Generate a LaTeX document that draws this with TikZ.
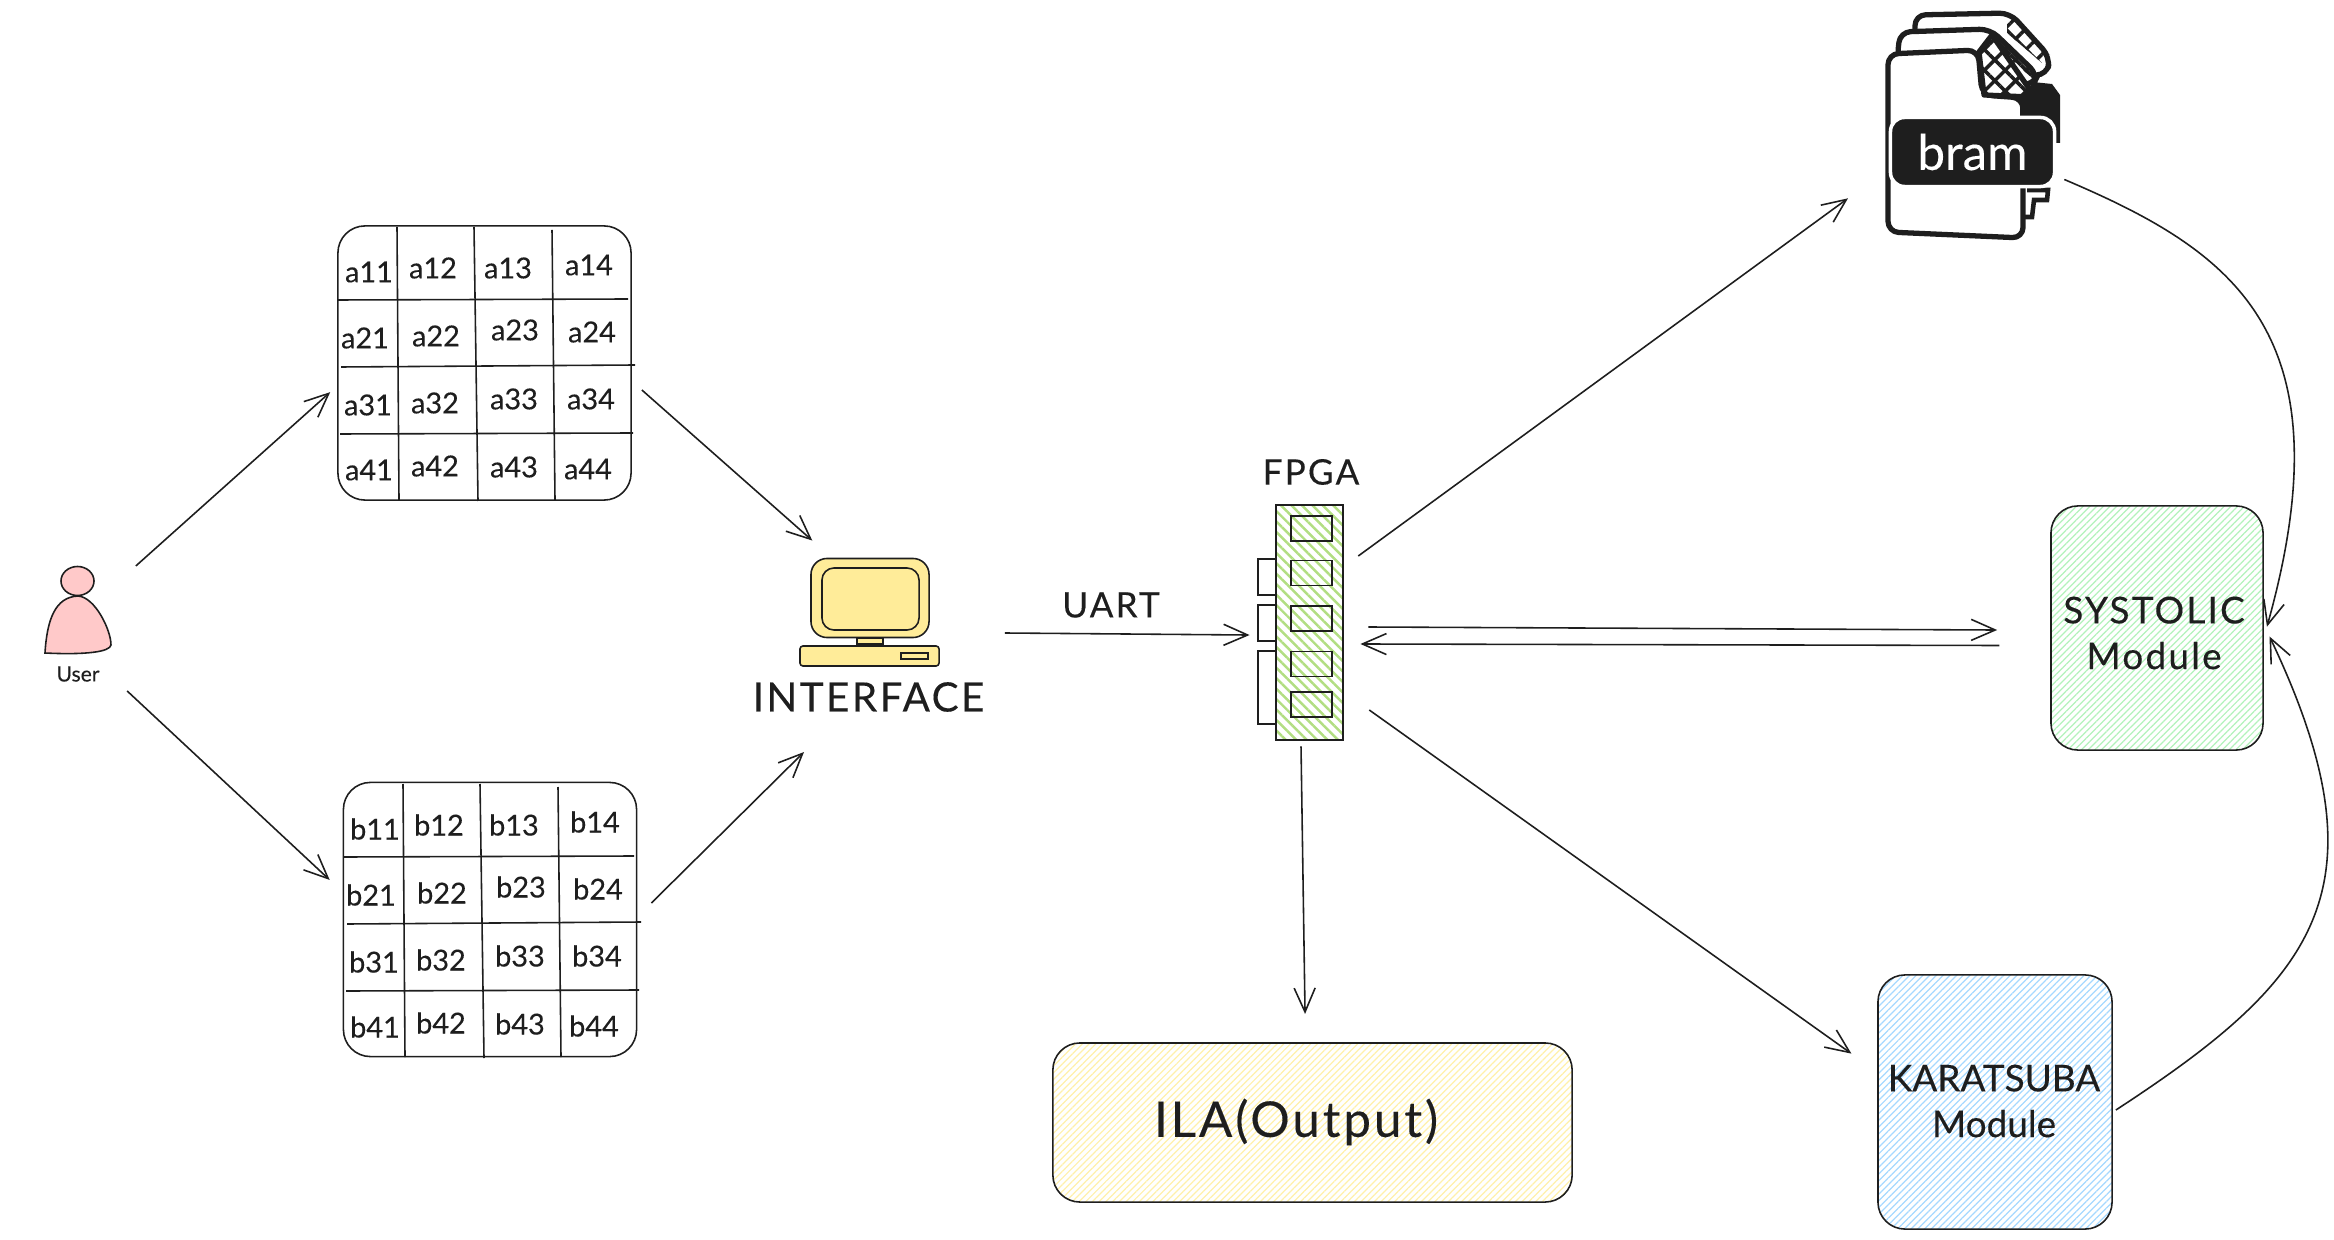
\documentclass[tikz,border=0pt]{standalone}
\usepackage{fontspec}
\setmainfont[FakeBold=0.25]{Lato}
\newfontfamily\wideface[FakeBold=0.25,LetterSpace=6]{Lato}
\usetikzlibrary{arrows.meta,patterns.meta,shapes.geometric}
\definecolor{ink}{RGB}{30,30,30}
\definecolor{softpink}{RGB}{255,201,201}
\definecolor{softyellow}{RGB}{255,236,153}
\definecolor{hatchyellow}{RGB}{255,240,170}
\definecolor{hatchgreen}{RGB}{178,242,187}
\definecolor{hatchblue}{RGB}{165,216,255}
\definecolor{hatchlime}{RGB}{178,222,130}

\begin{document}
\begin{tikzpicture}[
  x=0.01cm, y=-0.01cm,
  inkline/.style={draw=ink, line width=0.45pt},
  link/.style={inkline, shorten >=-0.8pt, -{Straight Barb[length=2.4mm,width=2.1mm]}},
  cell/.style={text=ink, inner sep=0pt, font=\fontsize{8.2}{10}\selectfont},
  gridline/.style={inkline},
  matbox/.style={inkline, rounded corners=0.27cm, minimum width=2.93cm, minimum height=2.74cm, inner sep=0pt},
  module/.style={inkline, rounded corners=0.27cm, inner sep=0pt},
  modtext/.style={align=center, inner sep=0pt, text=ink, font=\wideface\fontsize{10.5}{13}\selectfont},
  fine/.style={pattern={Lines[angle=45,distance=1.35pt,line width=0.35pt]}, pattern color=#1},
  pcpart/.style={inkline, fill=softyellow, inner sep=0pt},
  chip/.style={inkline, minimum width=0.41cm, minimum height=0.25cm, inner sep=0pt},
  tab/.style={inkline, fill=white, minimum width=0.18cm, inner sep=0pt},
  title/.style={text=ink, inner sep=0pt, font=\wideface\fontsize{11.5}{13}\selectfont},
  sheet/.style={draw=ink, line width=1.5pt, fill=white, rounded corners=3pt, line join=round},
  fold/.style={pattern={Lines[angle=#1,distance=4.2pt,line width=1pt]}, pattern color=ink}
]
\useasboundingbox (0,0) rectangle (2334,1240);

\node[draw=ink, line width=0.45pt, fill=softpink, ellipse, minimum width=0.33cm, minimum height=0.29cm, inner sep=0pt] (userhead) at (77.5,581) {};
\draw[inkline, fill=softpink] (45,653) .. controls (47,620) and (55,597) .. (78,596) .. controls (95,597) and (111,630) .. (111,645) .. controls (110,652) and (85,655) .. cycle;
\node[text=ink, inner sep=0pt, font=\fontsize{6}{7}\selectfont] (userlabel) at (78,674) {User};

\node[matbox] (matA) at (484.5,363) {};
\node[matbox] (matB) at (490,919.5) {};
\foreach \m/\dx/\dy in {a/0/0,b/6/557} {
  \foreach \row/\col/\x/\y in {1/1/369/272,1/2/433/268,1/3/508/268,1/4/589/265,
    2/1/365/338,2/2/436/336,2/3/515/330,2/4/592/332,
    3/1/368/405,3/2/435/403,3/3/514/399,3/4/591/399,
    4/1/369/470,4/2/435/466,4/3/514/467,4/4/588/469} {
    \node[cell] (\m\row\col) at (\x+\dx,\y+\dy) {\m\row\col};
  }
  \foreach \xa/\ya/\xb/\yb in {397/227/399/500,474/227/478/501,552/230/555/500,
    338/300/628/299,341/367/635/365,340/434/633/433} {
    \draw[gridline] (\xa+\dx,\ya+\dy) -- (\xb+\dx,\yb+\dy);
  }
}

\node[pcpart, rounded corners=0.16cm, minimum width=1.18cm, minimum height=0.79cm] (monitor) at (870,598) {};
\node[pcpart, rounded corners=0.12cm, minimum width=0.97cm, minimum height=0.62cm] (screen) at (870.5,599) {};
\node[pcpart, minimum width=0.255cm, minimum height=0.06cm] (neck) at (870,641) {};
\node[pcpart, rounded corners=0.03cm, minimum width=1.39cm, minimum height=0.2cm] (base) at (869.5,656) {};
\node[pcpart, minimum width=0.27cm, minimum height=0.06cm] (slot) at (914.5,656) {};
\node[title] (ifacelabel) at (868.5,697) {INTERFACE};

\node[title, font=\wideface\fontsize{10}{12}\selectfont] (uartlabel) at (1111,605) {UART};
\node[title, font=\wideface\fontsize{10}{12}\selectfont] (fpgalabel) at (1311,472) {FPGA};

\node[tab, minimum height=0.36cm] (tab1) at (1267,577) {};
\node[tab, minimum height=0.36cm] (tab2) at (1267,623) {};
\node[tab, minimum height=0.73cm] (tab3) at (1267,687.5) {};
\node[inkline, pattern={Lines[angle=-45,distance=2.1pt,line width=0.7pt]}, pattern color=hatchlime, minimum width=0.67cm, minimum height=2.35cm, inner sep=0pt] (fpga) at (1309.5,622.5) {};
\foreach \n/\y in {1/528.5,2/573,3/618.5,4/664,5/704.5} {
  \node[chip] (chip\n) at (1311.5,\y) {};
}

\fill[ink] (2020,143) -- (2020,100) -- (2033,82) -- (2052,84) -- (2060,95) -- (2060,143) -- cycle;
\draw[sheet] (1915,40) -- (1915,15) -- (2010,13) -- (2050,57) -- (2047,75) -- (1990,75) -- cycle;
\foreach \ang in {45,-45} {
  \fill[fold=\ang] (2007,17) -- (2013,15) -- (2050,55) -- (2042,63) -- (2007,33) -- cycle;
}
\draw[sheet] (1897,60) -- (1900,32) -- (1990,29) -- (2038,75) -- (2033,85) -- (1980,85) -- cycle;
\foreach \ang in {45,-45} {
  \fill[fold=\ang] (1992,33) -- (2003,40) -- (2038,73) -- (2032,78) -- (2000,50) -- cycle;
}
\draw[sheet] (1888,232) -- (1888,54) -- (1978,50) -- (1982,95) -- (2023,98) -- (2023,238) -- cycle;
\fill[white] (1979,52) -- (1992,35) -- (2030,90) -- (2030,97) -- (1984,95) -- cycle;
\foreach \ang in {45,-45} {
  \fill[fold=\ang] (1979,52) -- (1992,35) -- (2030,90) -- (2030,97) -- (1984,95) -- cycle;
}
\draw[draw=ink, line width=1.5pt, line join=round] (1979,52) -- (1992,35) -- (2030,90) -- (2030,97) -- (1984,95) -- cycle;
\fill[ink] (2020,100) -- (2040,100) -- (2048,118) -- (2020,118) -- cycle;
\draw[ink, line width=1.3pt] (2027,190) -- (2048,190) -- (2047,200) -- (2034,200) -- (2032,217) -- (2025,217);
\node[draw=white, line width=1pt, fill=ink, rounded corners=0.14cm, minimum width=1.64cm, minimum height=0.69cm, inner sep=0pt, text=white, font=\fontsize{14}{16}\selectfont] (bramtag) at (1972.5,152) {bram};

\node[module, fine=hatchgreen, minimum width=2.12cm, minimum height=2.44cm] (systolic) at (2157,628) {};
\node[modtext] (systext) at (2154,633) {SYSTOLIC\\Module};
\node[module, fine=hatchblue, minimum width=2.34cm, minimum height=2.54cm] (karatsuba) at (1995,1102) {};
\node[modtext, font=\fontsize{10.5}{13}\selectfont] (karatext) at (1994,1101) {KARATSUBA\\Module};
\node[module, fine=hatchyellow, minimum width=5.19cm, minimum height=1.59cm] (ila) at (1312.5,1122.5) {};
\node[modtext, font=\wideface\fontsize{14}{16}\selectfont] (ilatext) at (1296,1122) {ILA(Output)};

\draw[link] ([shift={(41,-15)}]userhead.east) -- ([shift={(-9,31)}]matA.west);
\draw[link] ([shift={(27,17)}]userlabel.east) -- ([shift={(-15,-41.5)}]matB.west);
\draw[link] ([shift={(10,27)}]matA.east) -- ([shift={(0,-19)}]monitor.north west);
\draw[link] ([shift={(14,-16.5)}]matB.east) -- ([shift={(-66.5,57)}]ifacelabel.center);
\draw[link] ([shift={(75,35)}]monitor.east) -- ([shift={(-28,12.5)}]fpga.west);
\draw[link] ([shift={(14,-66.5)}]fpga.east) -- ([shift={(-43,48)}]bramtag.west);
\draw[link] ([shift={(24,4.5)}]fpga.east) -- ([shift={(-56,2)}]systolic.west);
\draw[link] ([shift={(-51,17.5)}]systolic.west) -- ([shift={(19,21.5)}]fpga.east);
\draw[link] ([shift={(25,87.5)}]fpga.east) -- ([shift={(-28,-50)}]karatsuba.west);
\draw[link] ([shift={(-8.5,5)}]fpga.south) -- ([shift={(-7.5,-31)}]ila.north);
\draw[link] ([shift={(8,27.5)}]bramtag.east) .. controls (2230,250) and (2350,330) .. ([shift={(4,-4)}]systolic.east);
\draw[link] ([shift={(3,8)}]karatsuba.east) .. controls (2315,980) and (2390,890) .. ([shift={(7,11)}]systolic.east);
\end{tikzpicture}
\end{document}
